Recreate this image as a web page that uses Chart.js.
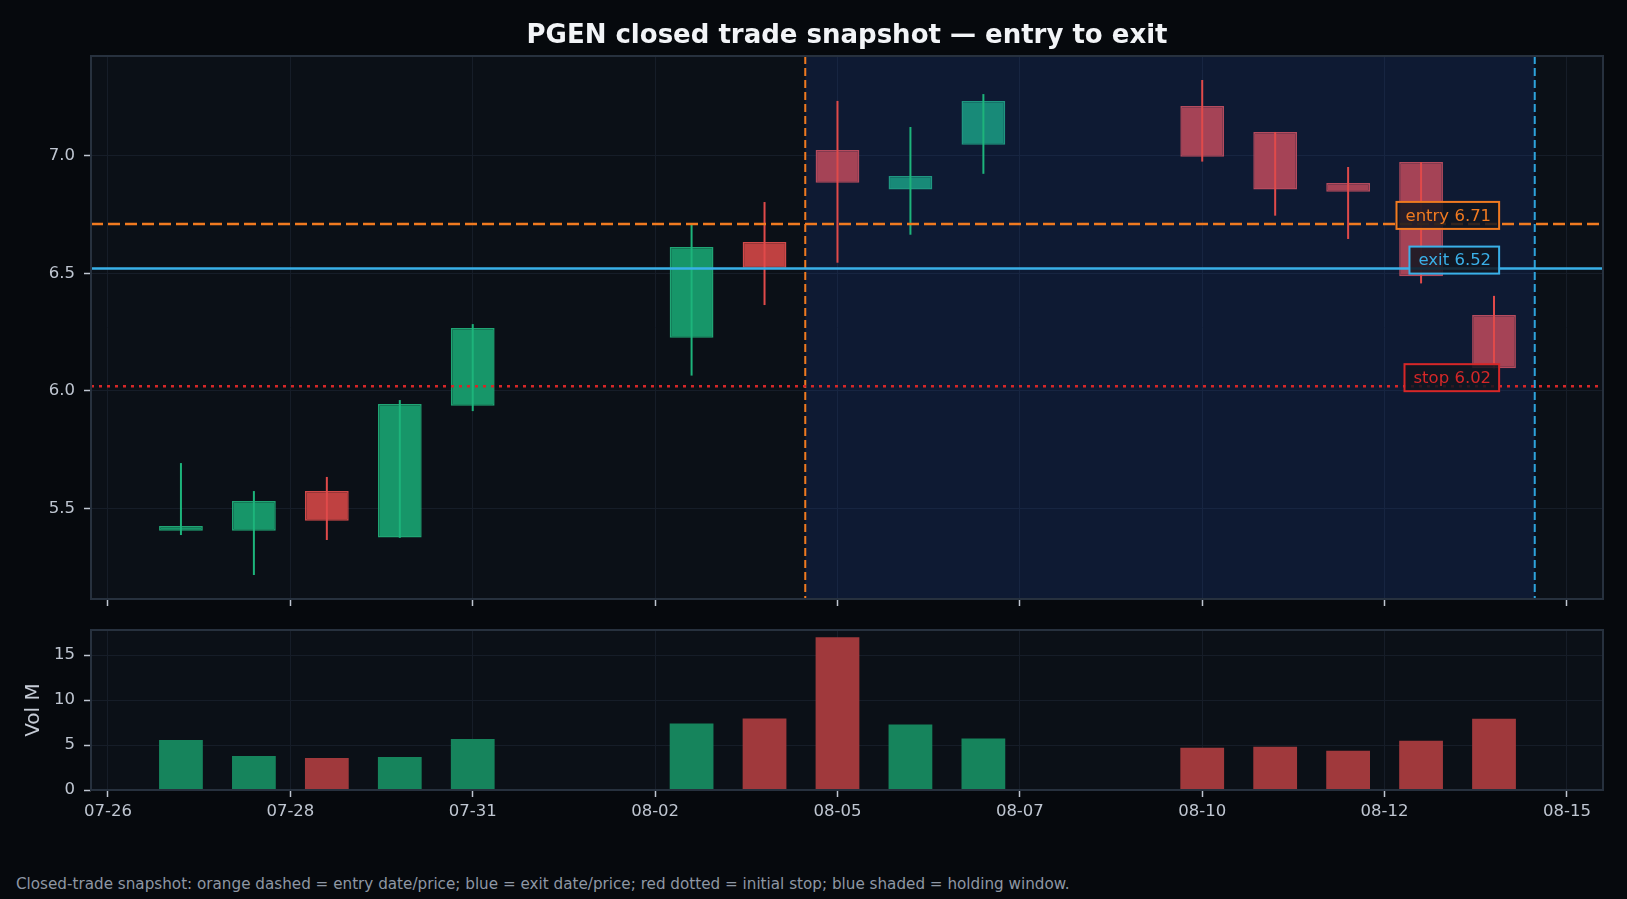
<!DOCTYPE html>
<html><head><meta charset="utf-8">
<script src="https://cdn.jsdelivr.net/npm/chart.js@4.4.1/dist/chart.umd.min.js"></script>
<style>
html,body{margin:0;padding:0;background:#06090d;width:1627px;height:899px;overflow:hidden;font-family:'DejaVu Sans',sans-serif;}
#title{position:absolute;left:91px;width:1512px;top:18px;line-height:32px;text-align:center;color:#f2f4f7;font-weight:bold;font-size:26px;z-index:2;}
#note{position:absolute;left:16px;top:874px;line-height:20px;font-size:15.2px;color:#8e97a4;white-space:nowrap;}
canvas{position:absolute;left:0;}
#price{top:0;width:1627px;height:620px;}
#vol{top:600px;width:1627px;height:250px;}
</style></head><body>
<canvas id="price" width="1627" height="620"></canvas>
<canvas id="vol" width="1627" height="250"></canvas>
<div id="title">PGEN closed trade snapshot — entry to exit</div>
<div id="note">Closed-trade snapshot: orange dashed = entry date/price; blue = exit date/price; red dotted = initial stop; blue shaded = holding window.</div>
<script>
// ---- data ----
const dates  = ['07-27','07-28','07-29','07-30','07-31','08-03','08-04','08-05','08-06','08-07','08-10','08-11','08-12','08-13','08-14'];
const open   = [5.405, 5.405, 5.574, 5.376, 5.937, 6.226, 6.633, 7.024, 6.856, 7.047, 7.211, 7.101, 6.884, 6.973, 6.323];
const high   = [5.693, 5.574, 5.634, 5.961, 6.284, 6.710, 6.803, 7.233, 7.122, 7.262, 7.322, 7.101, 6.952, 6.973, 6.404];
const low    = [5.387, 5.217, 5.366, 5.375, 5.914, 6.065, 6.365, 6.545, 6.664, 6.923, 6.975, 6.745, 6.646, 6.457, 6.096];
const close  = [5.425, 5.532, 5.448, 5.944, 6.267, 6.612, 6.524, 6.885, 6.914, 7.233, 6.996, 6.856, 6.847, 6.487, 6.096];
const volume = [5.56, 3.78, 3.56, 3.67, 5.67, 7.39, 7.95, 16.98, 7.28, 5.72, 4.70, 4.80, 4.37, 5.48, 7.92];

const xTickLabels = ['07-26','07-28','07-31','08-02','08-05','08-07','08-10','08-12','08-15'];
const xTickDays   = [0, 2.5, 5, 7.5, 10, 12.5, 15, 17.5, 20];
const priceTicks  = [5.5, 6.0, 6.5, 7.0];
const volTicks    = [0, 5, 10, 15];

const entryDate = '08-04', entryHour = 13.4, entryPrice = 6.71;
const exitDate  = '08-14', exitHour  = 13.4, exitPrice  = 6.52;
const stopPrice = 6.02;

// ---- helpers ----
const baseDate = '07-26';
function dayOf(s){ const [m,d]=s.split('-').map(Number); const [bm,bd]=baseDate.split('-').map(Number);
  return (Date.UTC(2024,m-1,d)-Date.UTC(2024,bm-1,bd))/864e5; }
const xs = dates.map(dayOf);
const entryX = dayOf(entryDate) + entryHour/24;
const exitX  = dayOf(exitDate) + exitHour/24;
const up = close.map((c,i)=>c>=open[i]);

const X_MIN = -0.233, X_MAX = 20.494;
const FONT = "'DejaVu Sans', sans-serif";
const TICK_COL = '#bfc6d1', GRID_COL = '#161d28', TICKMARK = '#bfc6d1';
const C = {
  bodyUp:'#179669', bodyDn:'#bf4141', bordUp:'#20a574', bordDn:'#d24a4a',
  wickUp:'#1db47b', wickDn:'#e04a4a', volUp:'#16845c', volDn:'#a0393c',
  entry:'#f07a20', exit:'#3ab0e8', stop:'#d62728', shade:'rgba(30,80,200,0.16)'
};

const plotFrame = {
  id:'plotFrame',
  beforeDraw(chart){ const {ctx, chartArea:a}=chart; ctx.save(); ctx.fillStyle='#0b1017';
    ctx.fillRect(a.left,a.top,a.right-a.left,a.bottom-a.top); ctx.restore(); },
  afterDraw(chart){ const {ctx, chartArea:a}=chart; ctx.save(); ctx.strokeStyle='#27313e'; ctx.lineWidth=2;
    ctx.strokeRect(a.left,a.top,a.right-a.left,a.bottom-a.top); ctx.restore(); }
};

const holdShade = {
  id:'holdShade',
  afterDatasetDraw(chart,args){ if(args.index!==1) return;
    const {ctx, chartArea:a}=chart, x=chart.scales.x;
    const x0=x.getPixelForValue(entryX), x1=x.getPixelForValue(exitX);
    ctx.save(); ctx.fillStyle=C.shade; ctx.fillRect(x0,a.top,x1-x0,a.bottom-a.top); ctx.restore(); }
};

const tradeLines = {
  id:'tradeLines',
  afterDatasetsDraw(chart){
    const {ctx, chartArea:a}=chart, x=chart.scales.x, y=chart.scales.y;
    ctx.save();
    ctx.beginPath(); ctx.rect(a.left,a.top,a.right-a.left,a.bottom-a.top); ctx.clip();
    function hline(v,col,dash,w){ const py=y.getPixelForValue(v); ctx.strokeStyle=col; ctx.lineWidth=w; ctx.setLineDash(dash);
      ctx.beginPath(); ctx.moveTo(a.left,py); ctx.lineTo(a.right,py); ctx.stroke(); }
    function vline(v,col,dash,w){ const px=x.getPixelForValue(v); ctx.strokeStyle=col; ctx.lineWidth=w; ctx.setLineDash(dash);
      ctx.beginPath(); ctx.moveTo(px,a.top); ctx.lineTo(px,a.bottom); ctx.stroke(); }
    vline(entryX,C.entry,[8,4],2);
    vline(exitX,'#2ea3dc',[8,4],2);
    hline(stopPrice,C.stop,[3,5],2.5);
    hline(exitPrice,C.exit,[],2.5);
    hline(entryPrice,C.entry,[12,5],2.5);
    ctx.setLineDash([]);
    ctx.font = "16.5px "+FONT; ctx.textAlign='right'; ctx.textBaseline='middle';
    const rightPx = x.getPixelForValue(19.07);
    function label(v,text,col){ const py=y.getPixelForValue(v); const tw=ctx.measureText(text).width;
      const h=27, bottom=py+5, w=tw+17;
      ctx.fillStyle='rgba(17,22,32,0.85)'; ctx.fillRect(rightPx-w,bottom-h,w,h);
      ctx.strokeStyle=col; ctx.lineWidth=2; ctx.strokeRect(rightPx-w,bottom-h,w,h);
      ctx.fillStyle=col; ctx.fillText(text,rightPx-8,bottom-h/2+1); }
    label(entryPrice,'entry '+entryPrice.toFixed(2),C.entry);
    label(exitPrice,'exit '+exitPrice.toFixed(2),C.exit);
    label(stopPrice,'stop '+stopPrice.toFixed(2),C.stop);
    ctx.restore();
  }
};

function xScale(showLabels){
  return {
    type:'linear', min:X_MIN, max:X_MAX, offset:false,
    afterBuildTicks:ax=>{ ax.ticks = xTickDays.map(v=>({value:v})); },
    ticks:{display:showLabels, autoSkip:false, maxRotation:0, color:TICK_COL, padding:5,
      font:{family:FONT,size:16.5}, callback:(v,i)=>xTickLabels[i]},
    grid:{color:GRID_COL, offset:false, tickColor:TICKMARK, tickLength:7, tickWidth:1.5, lineWidth:1},
    border:{display:false},
    afterFit:s=>{ s.height = showLabels ? 40 : 7; }
  };
}

new Chart(document.getElementById('price'), {
  type:'bar',
  data:{ datasets:[
    { label:'wick', data: xs.map((x,i)=>({x, y:[low[i],high[i]]})),
      backgroundColor: up.map(u=>u?C.wickUp:C.wickDn), maxBarThickness:2, grouped:false, order:0 },
    { label:'body', data: xs.map((x,i)=>({x, y:[open[i],close[i]]})),
      backgroundColor: up.map(u=>u?C.bodyUp:C.bodyDn), borderColor: up.map(u=>u?C.bordUp:C.bordDn),
      borderWidth:1.5, borderSkipped:false, barPercentage:0.6, categoryPercentage:1, grouped:false, order:1 }
  ]},
  options:{
    responsive:false, animation:false, devicePixelRatio:1,
    layout:{padding:{left:0,right:24,top:56,bottom:14}},
    plugins:{legend:{display:false}, tooltip:{enabled:false}},
    scales:{
      x: xScale(false),
      y:{ type:'linear', min:5.115, max:7.424, beginAtZero:false,
        afterBuildTicks:ax=>{ ax.ticks = priceTicks.map(v=>({value:v})); },
        ticks:{color:TICK_COL, padding:9, font:{family:FONT,size:16.5}, callback:v=>v.toFixed(1)},
        grid:{color:GRID_COL, tickColor:TICKMARK, tickLength:7, tickWidth:1.5},
        border:{display:false},
        afterFit:s=>{ s.width = 91; } }
    }
  },
  plugins:[plotFrame, holdShade, tradeLines]
});

new Chart(document.getElementById('vol'), {
  type:'bar',
  data:{ datasets:[
    { label:'volume', data: xs.map((x,i)=>({x, y:volume[i]})),
      backgroundColor: up.map(u=>u?C.volUp:C.volDn), barPercentage:0.6, categoryPercentage:1, grouped:false }
  ]},
  options:{
    responsive:false, animation:false, devicePixelRatio:1,
    layout:{padding:{left:0,right:24,top:30,bottom:20}},
    plugins:{legend:{display:false}, tooltip:{enabled:false}},
    scales:{
      x: xScale(true),
      y:{ type:'linear', min:0, max:17.78,
        afterBuildTicks:ax=>{ ax.ticks = volTicks.map(v=>({value:v})); },
        ticks:{color:TICK_COL, padding:9, font:{family:FONT,size:16.5}, callback:v=>String(v)},
        grid:{color:GRID_COL, tickColor:TICKMARK, tickLength:7, tickWidth:1.5},
        border:{display:false},
        title:{display:true, text:'Vol M', color:'#c6ccd6', font:{family:FONT,size:20}, padding:{top:22,bottom:0}},
        afterFit:s=>{ s.width = 91; } }
    }
  },
  plugins:[plotFrame]
});
</script>
</body></html>
